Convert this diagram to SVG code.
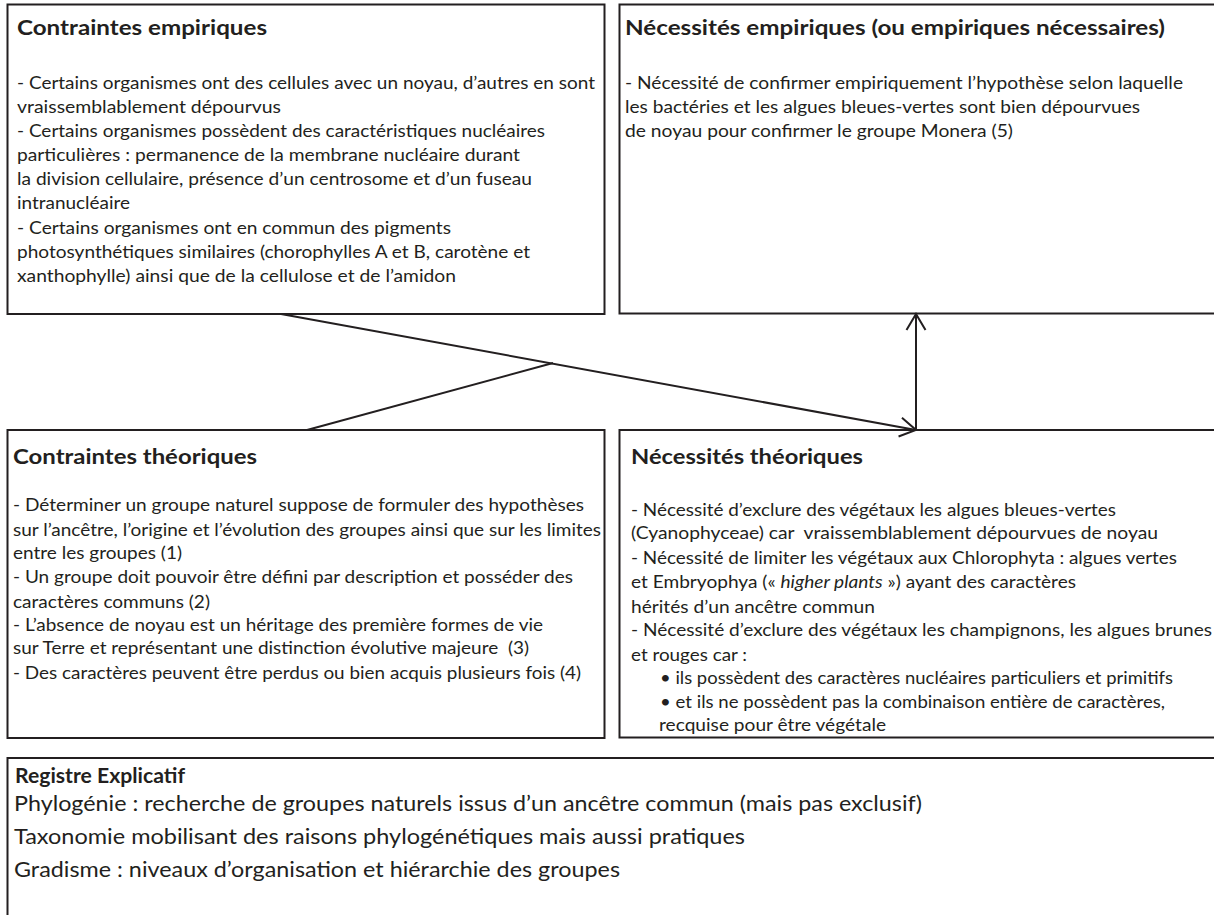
<svg xmlns="http://www.w3.org/2000/svg" width="1214" height="915" viewBox="0 0 1214 915">
<defs>
<style>
.box{fill:#fff;stroke:#231f20;stroke-width:2}
.t{font-family:Lato,"Liberation Sans",sans-serif;font-size:18.2px;fill:#231f20}
.h{font-family:Lato,"Liberation Sans",sans-serif;font-size:20.5px;font-weight:bold;fill:#231f20}
.r{font-family:Lato,"Liberation Sans",sans-serif;font-size:22px;fill:#231f20}
.c{fill:none;stroke:#231f20;stroke-width:2}
</style>
<marker id="arr" viewBox="-20 -12 24 24" markerWidth="24" markerHeight="24" refX="0" refY="0" orient="auto" markerUnits="userSpaceOnUse">
<path d="M-16,-9.5 L0,0 L-16,9.5" fill="none" stroke="#231f20" stroke-width="2"/>
</marker>
</defs>
<rect width="1214" height="915" fill="#fff"/>

<g id="contraintes-empiriques">
<rect class="box" x="7.5" y="4.5" width="597" height="309.5"/>
<text class="h" x="17" y="35" textLength="250" lengthAdjust="spacingAndGlyphs">Contraintes empiriques</text>
<text class="t" x="17" y="89" textLength="578" lengthAdjust="spacingAndGlyphs">- Certains organismes ont des cellules avec un noyau, d’autres en sont</text>
<text class="t" x="17" y="113" textLength="264" lengthAdjust="spacingAndGlyphs">vraissemblablement dépourvus</text>
<text class="t" x="17" y="137" textLength="528" lengthAdjust="spacingAndGlyphs">- Certains organismes possèdent des caractéristiques nucléaires</text>
<text class="t" x="17" y="161" textLength="503" lengthAdjust="spacingAndGlyphs">particulières : permanence de la membrane nucléaire durant</text>
<text class="t" x="17" y="185" textLength="515" lengthAdjust="spacingAndGlyphs">la division cellulaire, présence d’un centrosome et d’un fuseau</text>
<text class="t" x="17" y="209" textLength="113" lengthAdjust="spacingAndGlyphs">intranucléaire</text>
<text class="t" x="17" y="234" textLength="434" lengthAdjust="spacingAndGlyphs">- Certains organismes ont en commun des pigments</text>
<text class="t" x="17" y="258" textLength="513" lengthAdjust="spacingAndGlyphs">photosynthétiques similaires (chorophylles A et B, carotène et</text>
<text class="t" x="17" y="282" textLength="439" lengthAdjust="spacingAndGlyphs">xanthophylle) ainsi que de la cellulose et de l’amidon</text>
</g>

<g id="necessites-empiriques">
<rect class="box" x="619.5" y="4.5" width="610" height="309"/>
<text class="h" x="625" y="35" textLength="540" lengthAdjust="spacingAndGlyphs">Nécessités empiriques (ou empiriques nécessaires)</text>
<text class="t" x="625" y="89" textLength="558" lengthAdjust="spacingAndGlyphs">- Nécessité de confirmer empiriquement l’hypothèse selon laquelle</text>
<text class="t" x="625" y="113" textLength="515" lengthAdjust="spacingAndGlyphs">les bactéries et les algues bleues-vertes sont bien dépourvues</text>
<text class="t" x="625" y="137" textLength="388" lengthAdjust="spacingAndGlyphs">de noyau pour confirmer le groupe Monera (5)</text>
</g>

<g id="contraintes-theoriques">
<rect class="box" x="7.5" y="430" width="597" height="308"/>
<text class="h" x="13" y="464" textLength="244" lengthAdjust="spacingAndGlyphs">Contraintes théoriques</text>
<text class="t" x="13" y="511" textLength="571" lengthAdjust="spacingAndGlyphs">- Déterminer un groupe naturel suppose de formuler des hypothèses</text>
<text class="t" x="13" y="536" textLength="588" lengthAdjust="spacingAndGlyphs">sur l’ancêtre, l’origine et l’évolution des groupes ainsi que sur les limites</text>
<text class="t" x="13" y="559" textLength="169" lengthAdjust="spacingAndGlyphs">entre les groupes (1)</text>
<text class="t" x="13" y="583" textLength="560" lengthAdjust="spacingAndGlyphs">- Un groupe doit pouvoir être défini par description et posséder des</text>
<text class="t" x="13" y="608" textLength="197" lengthAdjust="spacingAndGlyphs">caractères communs (2)</text>
<text class="t" x="13" y="631" textLength="530" lengthAdjust="spacingAndGlyphs">- L’absence de noyau est un héritage des première formes de vie</text>
<text class="t" x="13" y="654" textLength="516" lengthAdjust="spacingAndGlyphs" xml:space="preserve">sur Terre et représentant une distinction évolutive majeure  (3)</text>
<text class="t" x="13" y="679" textLength="568" lengthAdjust="spacingAndGlyphs">- Des caractères peuvent être perdus ou bien acquis plusieurs fois (4)</text>
</g>

<g id="necessites-theoriques">
<rect class="box" x="619.5" y="430" width="610" height="307.5"/>
<text class="h" x="631" y="464" textLength="232" lengthAdjust="spacingAndGlyphs">Nécessités théoriques</text>
<text class="t" x="631" y="516" textLength="485" lengthAdjust="spacingAndGlyphs">- Nécessité d’exclure des végétaux les algues bleues-vertes</text>
<text class="t" x="631" y="539" textLength="527" lengthAdjust="spacingAndGlyphs" xml:space="preserve">(Cyanophyceae) car  vraissemblablement dépourvues de noyau</text>
<text class="t" x="631" y="564" textLength="546" lengthAdjust="spacingAndGlyphs">- Nécessité de limiter les végétaux aux Chlorophyta : algues vertes</text>
<text class="t" x="631" y="588" textLength="445" lengthAdjust="spacingAndGlyphs">et Embryophya (« <tspan font-style="italic">higher plants</tspan> ») ayant des caractères</text>
<text class="t" x="631" y="613" textLength="244" lengthAdjust="spacingAndGlyphs">hérités d’un ancêtre commun</text>
<text class="t" x="631" y="636" textLength="581" lengthAdjust="spacingAndGlyphs">- Nécessité d’exclure des végétaux les champignons, les algues brunes</text>
<text class="t" x="631" y="661" textLength="116" lengthAdjust="spacingAndGlyphs">et rouges car :</text>
<text class="t" x="660" y="684" textLength="513" lengthAdjust="spacingAndGlyphs">• ils possèdent des caractères nucléaires particuliers et primitifs</text>
<text class="t" x="660" y="708" textLength="505" lengthAdjust="spacingAndGlyphs">• et ils ne possèdent pas la combinaison entière de caractères,</text>
<text class="t" x="659" y="731" textLength="227" lengthAdjust="spacingAndGlyphs">recquise pour être végétale</text>
</g>

<g id="registre-explicatif">
<rect class="box" x="7.5" y="758" width="1222" height="180"/>
<text class="h" x="15" y="783" textLength="170" lengthAdjust="spacingAndGlyphs">Registre Explicatif</text>
<text class="r" x="14" y="811" textLength="908" lengthAdjust="spacingAndGlyphs">Phylogénie : recherche de groupes naturels issus d’un ancêtre commun (mais pas exclusif)</text>
<text class="r" x="14" y="844" textLength="731" lengthAdjust="spacingAndGlyphs">Taxonomie mobilisant des raisons phylogénétiques mais aussi pratiques</text>
<text class="r" x="14" y="877" textLength="606" lengthAdjust="spacingAndGlyphs">Gradisme : niveaux d’organisation et hiérarchie des groupes</text>
</g>

<g id="connectors">
<line class="c" x1="281" y1="314" x2="916" y2="430" marker-end="url(#arr)"/>
<line class="c" x1="307" y1="430" x2="553" y2="363"/>
<line class="c" x1="916" y1="430" x2="916" y2="314" marker-end="url(#arr)"/>
</g>
</svg>
